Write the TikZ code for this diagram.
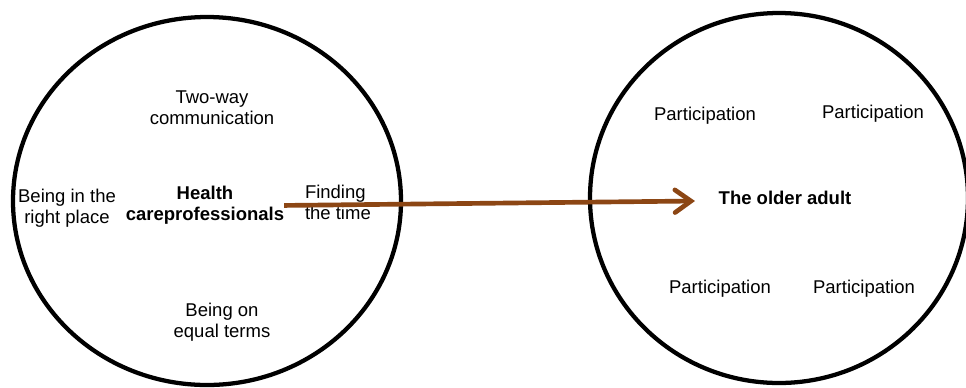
\documentclass[tikz,border=0pt]{standalone}
\usepackage{fontspec}
\setmainfont{Liberation Sans}
\usetikzlibrary{arrows.meta,shapes.geometric}
\definecolor{arrowbrown}{RGB}{140,70,20}
\newcommand\twolnc[2]{\begin{tabular}[t]{@{}c@{}}#1\\#2\end{tabular}}
\newcommand\twolnl[2]{\begin{tabular}[t]{@{}l@{}}#1\\#2\end{tabular}}
\tikzset{
  lbl/.style={inner sep=0pt, outer sep=0pt, anchor=base, font=\fontsize{13.875pt}{16.1pt}\selectfont},
  boldlbl/.style={lbl, font=\fontsize{13.875pt}{16.1pt}\selectfont\bfseries},
  bubble/.style={ellipse, draw=black, line width=3.2pt, inner sep=0pt},
  arr/.style={draw=arrowbrown, line width=3.5pt, -{Straight Barb[length=12pt, width=17pt, line cap=round]}}
}
\begin{document}
\begin{tikzpicture}[x=0.75pt, y=-0.75pt]
\useasboundingbox (0,0) rectangle (966,387);
\clip (0,0) rectangle (966,387);
\fill[white] (0,0) rectangle (966,387);
% circles
\node[bubble, minimum width=291pt, minimum height=276pt] (lc) at (207,201) {};
\node[bubble, minimum width=283.5pt, minimum height=277.5pt] (rc) at (779,198) {};
% left texts
\node[lbl] (tw) at (212,103) {\twolnc{Two-way}{communication}};
\node[lbl] (bir) at (67,202) {\twolnc{Being in the}{right place}};
\node[boldlbl] (hcp) at (205,199) {\twolnc{Health}{careprofessionals}};
\node[lbl, anchor=base west] (ft) at (305,198) {\twolnl{Finding}{the time}};
\node[lbl] (beq) at (222,316) {\twolnc{Being on}{equal terms}};
% right texts
\node[lbl] (p1) at (705,120) {Participation};
\node[lbl] (p2) at (873,118) {Participation};
\node[lbl] (p3) at (720,293) {Participation};
\node[lbl] (p4) at (864,293) {Participation};
\node[boldlbl] (oa) at (785,204) {The older adult};
% arrow
\coordinate (tip) at (695,201);
\draw[arr] (hcp.east) -- (tip);
\end{tikzpicture}
\end{document}
